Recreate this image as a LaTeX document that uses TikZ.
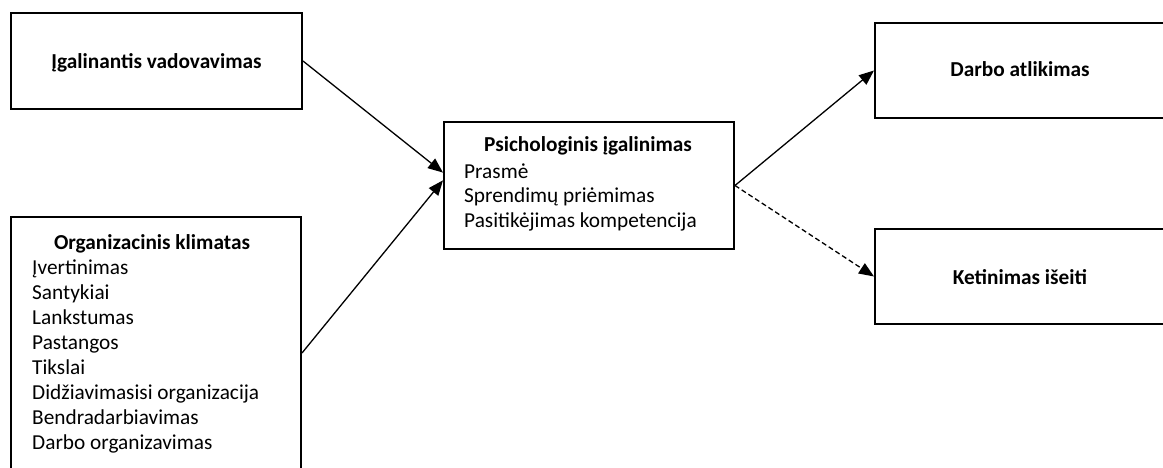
\documentclass[tikz,border=0pt]{standalone}
\usepackage{fontspec}
\setmainfont{Carlito}
\usetikzlibrary{arrows.meta,calc}
\begin{document}
\begin{tikzpicture}[x=1pt,y=-1pt,
  box/.style={draw,line width=2pt,rectangle,inner sep=0pt,anchor=north west},
  lbl/.style={inner sep=0pt,font=\fontsize{21.3}{25}\selectfont},
  blbl/.style={inner sep=0pt,font=\fontsize{21.3}{25}\selectfont\bfseries},
  conn/.style={line width=1.3pt,-{Triangle[length=15pt,width=12pt]}},
  dconn/.style={conn,dash pattern=on 5pt off 3pt}]
\useasboundingbox (0,0) rectangle (1163,468);
\clip (0,0) rectangle (1163,468);
\node[box,minimum width=291pt,minimum height=96pt] (b1) at (10,12) {};
\node[blbl] (t1) at ($(b1.center)+(0,2)$) {Įgalinantis vadovavimas};
\node[box,minimum width=290pt,minimum height=272pt] (b2) at (10,216) {};
\node[blbl,anchor=base] (t2) at (152,249) {Organizacinis klimatas};
\node[lbl,anchor=base west,align=left] (l2) at (32,449) {Įvertinimas\\Santykiai\\Lankstumas\\Pastangos\\Tikslai\\Didžiavimasisi organizacija\\Bendradarbiavimas\\Darbo organizavimas};
\node[box,minimum width=290pt,minimum height=127pt] (b3) at (443,121) {};
\node[blbl,anchor=base] (t3) at (588,152) {Psichologinis įgalinimas};
\node[lbl,anchor=base west,align=left] (l3) at (464,228) {Prasmė\\Sprendimų priėmimas\\Pasitikėjimas kompetencija};
\node[box,minimum width=292pt,minimum height=95pt] (b4) at (874,22) {};
\node[blbl,anchor=base] (t4) at (1020,77) {Darbo atlikimas};
\node[box,minimum width=292pt,minimum height=95pt] (b5) at (874,228) {};
\node[blbl,anchor=base] (t5) at (1020,284) {Ketinimas išeiti};
\draw[conn] (b1.east) -- ($(b3.north west)!0.4!(b3.south west)$);
\draw[conn] (b2.east) -- ($(b3.north west)!0.46!(b3.south west)$);
\draw[conn] (b3.east) -- (b4.west);
\draw[dconn] (b3.east) -- (b5.west);
\end{tikzpicture}
\end{document}
